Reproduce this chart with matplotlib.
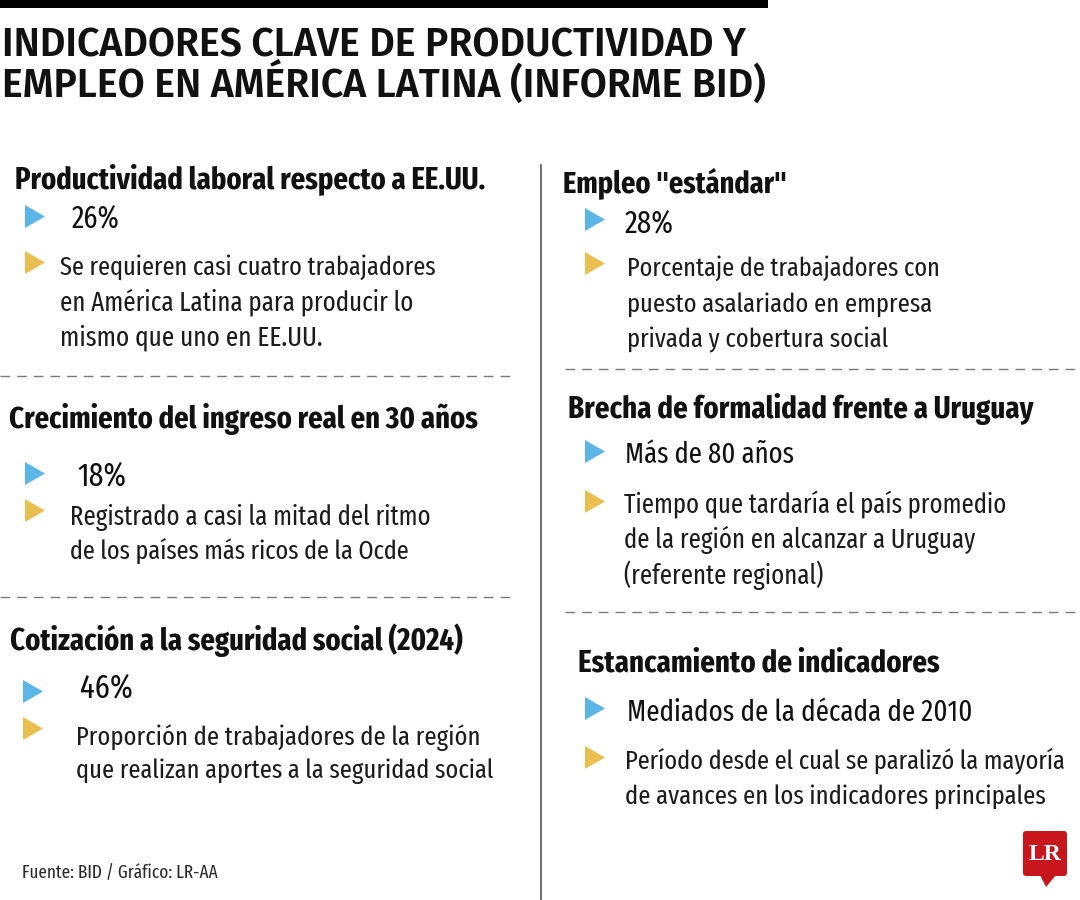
import matplotlib
matplotlib.use("Agg")
import matplotlib.pyplot as plt
from matplotlib import font_manager as fm
from matplotlib.patches import Polygon, Rectangle, FancyBboxPatch

# ---------------------------------------------------------------
# Datos (texto del gráfico)
# ---------------------------------------------------------------
TITLE_LINES = ["INDICADORES CLAVE DE PRODUCTIVIDAD Y",
               "EMPLEO EN AMÉRICA LATINA (INFORME BID)"]

HEADINGS = ["Productividad laboral respecto a EE.UU.",
            "Crecimiento del ingreso real en 30 años",
            "Cotización a la seguridad social (2024)",
            'Empleo "estándar"',
            "Brecha de formalidad frente a Uruguay",
            "Estancamiento de indicadores"]

VALUES = ["26%", "18%", "46%", "28%", "Más de 80 años",
          "Mediados de la década de 2010"]

NOTES = [["Se requieren casi cuatro trabajadores",
          "en América Latina para producir lo",
          "mismo que uno en EE.UU."],
         ["Registrado a casi la mitad del ritmo",
          "de los países más ricos de la Ocde"],
         ["Proporción de trabajadores de la región",
          "que realizan aportes a la seguridad social"],
         ["Porcentaje de trabajadores con",
          "puesto asalariado en empresa",
          "privada y cobertura social"],
         ["Tiempo que tardaría el país promedio",
          "de la región en alcanzar a Uruguay",
          "(referente regional)"],
         ["Período desde el cual se paralizó la mayoría",
          "de avances en los indicadores principales"]]

SOURCE = "Fuente: BID / Gráfico: LR-AA"
LOGO = "LR"

# ---------------------------------------------------------------
# Diseño (posiciones en píxeles, y hacia abajo)
# ---------------------------------------------------------------
# heading x, baseline, right | triangle x, blue top, yellow top |
# value x, baseline, right | note x, baselines, rights
LAYOUT = [
    dict(h=(15, 188, 487), tri=(25, 205, 251), v=(72, 228, 120),
         n=(60, [275, 310, 345], [436, 412, 322])),
    dict(h=(9, 428, 479), tri=(25, 462, 499), v=(77, 485, 126),
         n=(70, [525, 560], [430, 410])),
    dict(h=(10, 650, 463), tri=(23, 680, 717), v=(80, 697, 133),
         n=(76, [745, 778], [478, 493])),
    dict(h=(563, 192, 788), tri=(585, 208, 252), v=(625, 233, 674),
         n=(627, [276, 312, 347], [940, 931, 888])),
    dict(h=(568, 418, 1034), tri=(585, 440, 490), v=(625, 463, 795),
         n=(624, [513, 548, 584], [1005, 974, 822])),
    dict(h=(578, 672, 939), tri=(585, 697, 746), v=(627, 721, 973),
         n=(625, [769, 804], [1066, 1043])),
]
DASHES = [(0, 515, 376), (0, 515, 597), (565, 1075, 369), (565, 1075, 612)]

BLUE = "#5bb5e6"
YELLOW = "#e9bf52"
RED = "#c8161d"
INK = "#111111"

# fuentes: se elige la primera instalada de cada lista
AVAIL = {f.name for f in fm.fontManager.ttflist}


def pick(cands):
    return [c for c in cands if c in AVAIL] + ["DejaVu Sans"]


COND = pick(["Fira Sans Extra Condensed", "Fira Sans Condensed",
             "Barlow Semi Condensed", "Barlow Condensed", "Asap Condensed",
             "Liberation Sans"])
TITLE_FONT = pick(["Fira Sans", "Open Sans", "Liberation Sans"])

W, H = 1080, 900
fig = plt.figure(figsize=(W / 100, H / 100), dpi=100)
ax = fig.add_axes([0, 0, 1, 1])
ax.set_xlim(0, W)
ax.set_ylim(H, 0)
ax.axis("off")
renderer = fig.canvas.get_renderer()


def put(x, y, s, right, px, weight="normal", color=INK, family=COND,
        grow=1.25):
    """Texto con línea base en y; ajusta tamaño para que acabe en 'right'."""
    t = ax.text(x, y, s, fontsize=px * 0.72, fontweight=weight, color=color,
                family=family, va="baseline", ha="left")
    w = t.get_window_extent(renderer).width
    scale = min(max((right - x) / w, 0.6), grow)
    t.set_fontsize(t.get_fontsize() * scale)
    return t


def triangle(x, top, color, w=20, h=23):
    ax.add_patch(Polygon([(x, top), (x, top + h), (x + w, top + h / 2)],
                         closed=True, fc=color, ec="none"))


# barra superior y título (un solo texto de dos líneas, 35 px entre bases;
# la línea base indicada es la de la segunda línea)
ax.add_patch(Rectangle((0, 0), 768, 8, fc="black", ec="none"))
title = put(2, 97, "\n".join(TITLE_LINES), 765, 46, weight="semibold",
            family=TITLE_FONT, grow=1.0)
_, lp_h, _ = renderer.get_text_width_height_descent(
    "lp", title.get_fontproperties(), ismath=False)
title.set_linespacing(35 / lp_h)

# separador vertical
ax.plot([541, 541], [165, 900], color="#555555", lw=1.2)

# líneas punteadas
for x0, x1, y in DASHES:
    ax.plot([x0, x1], [y, y], color="#7a7a7a", lw=1.0, dashes=(7, 5))

# bloques
for head, val, note, lay in zip(HEADINGS, VALUES, NOTES, LAYOUT):
    hx, hy, hr = lay["h"]
    put(hx, hy, head, hr, 32, weight="bold")
    tx, t1, t2 = lay["tri"]
    triangle(tx, t1, BLUE)
    triangle(tx, t2, YELLOW)
    vx, vy, vr = lay["v"]
    put(vx, vy, val, vr, 32, weight="normal")
    nx, nys, nrs = lay["n"]
    for line, ny, nr in zip(note, nys, nrs):
        put(nx, ny, line, nr, 31, weight="normal", color="#1c1c1c")

# fuente
put(22, 878, SOURCE, 218, 18, weight="normal", color="#2a2a2a")

# logo LR
ax.add_patch(FancyBboxPatch((1023, 831), 44, 45,
                            boxstyle="round,pad=0,rounding_size=3",
                            fc=RED, ec="none"))
ax.add_patch(Polygon([(1040, 875), (1056, 875), (1046, 887)],
                     closed=True, fc=RED, ec="none"))
ax.text(1045, 855, LOGO, color="white", fontsize=17, fontweight="bold",
        family=["Liberation Serif", "DejaVu Serif"], ha="center", va="center")

fig.savefig("out.png", dpi=100)
